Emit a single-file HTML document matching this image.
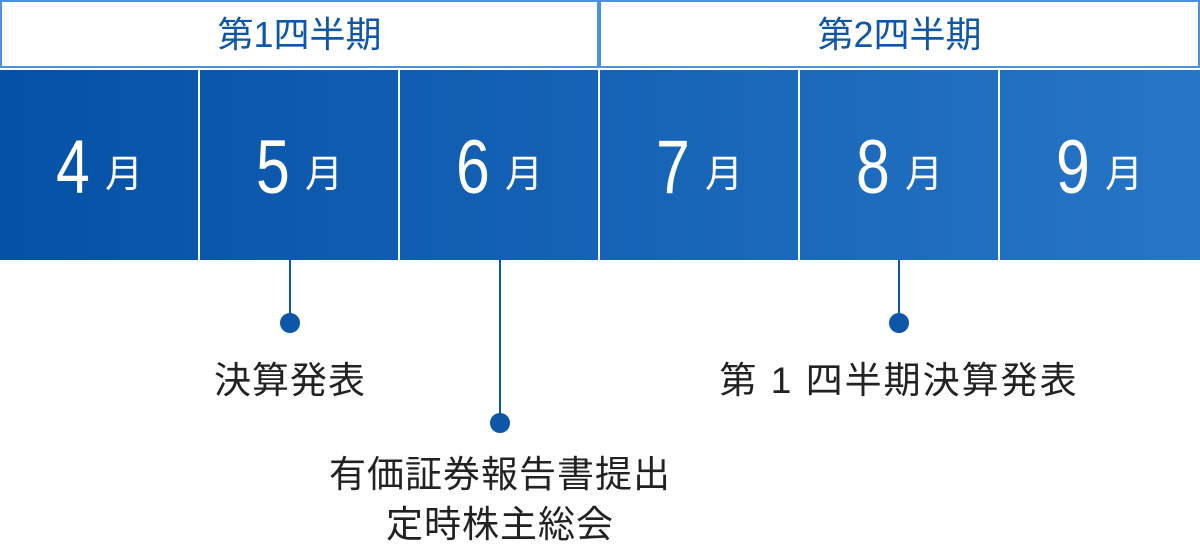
<!DOCTYPE html>
<html><head><meta charset="utf-8"><style>
body{margin:0;width:1200px;height:555px;background:#fff;position:relative;overflow:hidden;font-family:"Liberation Sans","Noto Sans CJK JP",sans-serif;}
.hdr{position:absolute;top:0;height:64px;border:2px solid #4b93de;color:#0e56a8;font-size:36px;line-height:66px;text-align:center;box-sizing:content-box;letter-spacing:0px}
.bar{position:absolute;top:70px;left:0;width:1200px;height:190px;background:linear-gradient(90deg,#0451a6,#2775c6);}
.cell{position:absolute;top:70px;height:190px;width:198px;color:#fff;}
.num{position:absolute;left:56px;top:55px;font-size:76px;line-height:86px;transform:scaleX(0.8);transform-origin:left top;}
.mo{position:absolute;left:105px;top:80px;font-size:38px;line-height:50px;}
.sep{position:absolute;top:70px;height:190px;width:2px;background:#fff}
.vl{position:absolute;width:2px;background:#0e56a8;top:260px}
.dot{position:absolute;width:20px;height:20px;border-radius:50%;background:#0e56a8}
.lbl{position:absolute;font-size:37px;color:#222;text-align:center;white-space:nowrap;transform:translateX(-50%);letter-spacing:1px}
</style></head><body>
<div class="hdr" style="left:0;width:595px;">第1四半期</div>
<div class="hdr" style="left:599px;width:597px;">第2四半期</div>
<div class="bar"></div>
<div class="cell" style="left:0"><div class="num">4</div><div class="mo">月</div></div>
<div class="cell" style="left:200px"><div class="num">5</div><div class="mo">月</div></div>
<div class="cell" style="left:400px"><div class="num">6</div><div class="mo">月</div></div>
<div class="cell" style="left:600px"><div class="num">7</div><div class="mo">月</div></div>
<div class="cell" style="left:800px"><div class="num">8</div><div class="mo">月</div></div>
<div class="cell" style="left:1000px"><div class="num">9</div><div class="mo">月</div></div>
<div class="sep" style="left:198px"></div><div class="sep" style="left:398px"></div><div class="sep" style="left:598px"></div><div class="sep" style="left:798px"></div><div class="sep" style="left:998px"></div>
<div class="vl" style="left:289px;height:63px"></div><div class="dot" style="left:280px;top:313px"></div>
<div class="vl" style="left:499px;height:163px"></div><div class="dot" style="left:490px;top:413px"></div>
<div class="vl" style="left:898px;height:63px"></div><div class="dot" style="left:889px;top:313px"></div>
<div class="lbl" style="left:290px;top:350px">決算発表</div>
<div class="lbl" style="left:899px;top:350px;letter-spacing:2px">第 1 四半期決算発表</div>
<div class="lbl" style="left:500px;top:450px;line-height:50px">有価証券報告書提出<br>定時株主総会</div>
</body></html>
